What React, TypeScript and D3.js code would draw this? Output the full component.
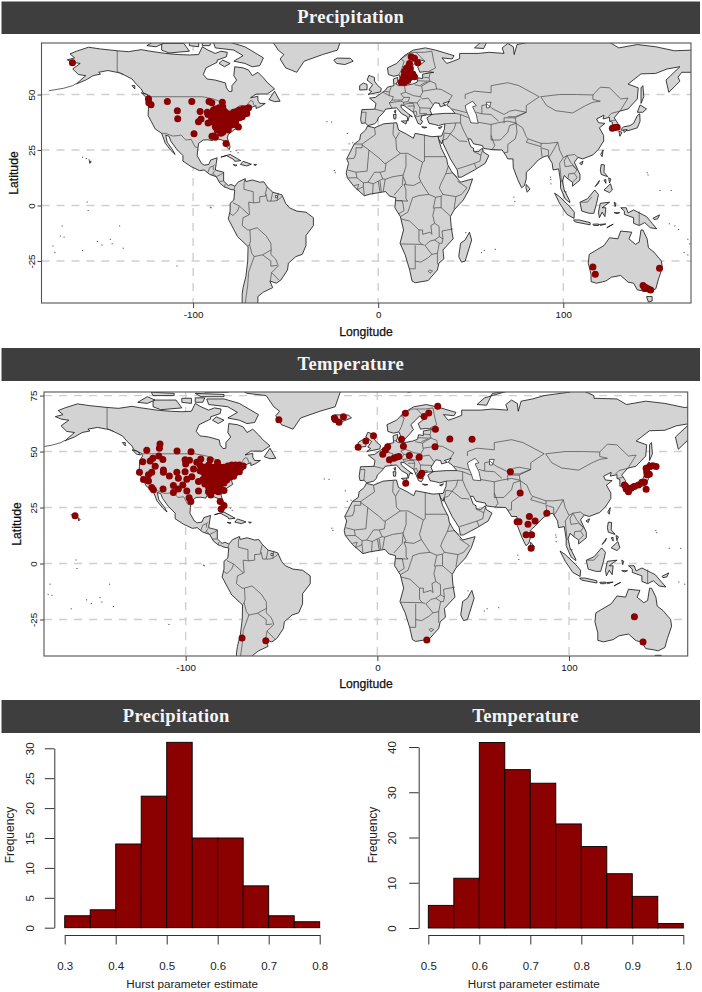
import { useRef, useEffect } from 'react';
import * as d3 from 'd3';

type P = [number, number];

// station locations, lon/lat
const precipStations: P[] = [
  [-165.2, 64.3], [-124.1, 48], [-123.9, 46.3], [-122.7, 45.4], [-113.9, 46.9], [-100.7, 46.8], [-108.5, 42.7], [-108.3, 39.1],
  [-99.5, 32.3], [-91.4, 46.8], [-89.9, 46.3], [-84.2, 46.5], [-96.2, 42.3], [-92.3, 42], [-95.7, 39], [-97.1, 37.7], [-91.9, 37.2],
  [-88.8, 31.3], [-89.8, 31.2], [-88, 30.8], [-82.2, 27.9], [-75.5, 35.4],
  [-89, 43], [-87, 42], [-85, 43], [-83, 42.5], [-88, 41], [-86, 40.5], [-84, 41], [-82, 41.5], [-80, 41], [-78, 42], [-76, 42.5],
  [-75, 43], [-73, 43.5], [-71, 43.5], [-70, 44], [-72, 42], [-74, 41], [-76, 40.5], [-78, 40], [-80, 39.5], [-82, 39.5], [-84, 39],
  [-86, 38.5], [-88, 39], [-90, 39], [-90, 41], [-92, 41], [-89, 37.5], [-87, 37], [-85, 37], [-83, 37.5], [-81, 37.5], [-79, 38],
  [-77, 38.5], [-75, 39.5], [-73, 41], [-71, 41.5], [-78, 36.5], [-80, 36], [-82, 36], [-84, 36], [-86, 35.5], [-88, 35.5], [-87, 34],
  [-85, 34], [-83, 34], [-81, 34], [-84, 33], [-82, 35], [-85, 32.5], [-73.5, 40], [-77, 37], [-75, 41.5], [-88, 43.5], [-86, 44], [-84, 44.5],
  [17.8, 67], [19.6, 66.3], [21.4, 64.3], [16.9, 64], [15.1, 61.7], [17.4, 61.7], [14.2, 60.2], [16, 59.5], [18.7, 59.2], [13.3, 57],
  [15.1, 57], [16.9, 57.5], [19.6, 58], [12.4, 55.5], [14.2, 55.5], [16, 56.3], [14, 58.5], [17, 60.5], [16.5, 62.8],
  [126.5, 34.8], [127.7, 35.1], [129.1, 35.2],
  [116, -27.7], [117.3, -31], [152, -28.2], [143.1, -36], [144.5, -36.9], [144, -37.4], [145.8, -37.5], [147.2, -38.1],
];

const tempStations: P[] = [
  [-51.4, 64.2], [-22.4, 65], [-22, 64.3], [-20, 63.1], [-17.7, 65.6], [-157.7, 21.3], [-70.6, -33.3], [-58.2, -34.5],
  [-113.4, 53.4], [-113.7, 51.5], [-120.3, 50.6], [-104.5, 50.3], [-97.2, 49.9], [-122.4, 45.5], [-118.5, 45.8], [-117.1, 47], [-114, 48],
  [-111.9, 46.4], [-115.9, 43.4], [-100.3, 46.3], [-98, 46.1], [-100, 44.5], [-94.2, 45.2], [-92.1, 46.7], [-92.5, 44], [-87.2, 46.3], [-83.4, 45.1],
  [-124.1, 40.8], [-117.7, 40.8], [-119.4, 39.6], [-122, 37.5], [-119.4, 36.9], [-111.6, 41.8], [-111.6, 40.8], [-108.5, 39.1], [-104.6, 40.8],
  [-103.8, 38.1], [-100.3, 41], [-99.4, 37.6], [-95.9, 42.2], [-96.8, 38.8], [-92.5, 41.4], [-93.3, 36.6], [-106.4, 34.8], [-103.8, 33.3],
  [-101.5, 35.1], [-106.4, 31.7], [-99.4, 32.4], [-117.7, 33.9], [-116.8, 32.9], [-111.8, 33.3], [-98.2, 29.4], [-97.3, 27.7], [-93.3, 32.4],
  [-88.1, 32.1], [-86.9, 30.6], [-82, 27.7], [-80, 25.9], [-81.5, 24.4], [-80, 32.6], [-78.6, 37.3],
  [-90, 43], [-88, 44], [-86, 43], [-84, 43], [-82, 43], [-80, 43], [-78, 43.5], [-76, 44], [-74, 44], [-72, 44], [-71, 43], [-70, 43.5],
  [-73, 42.5], [-75, 42], [-77, 42], [-79, 41.5], [-81, 41.5], [-83, 41.5], [-85, 41.5], [-87, 41.5], [-89, 41.5], [-91, 41], [-90, 39.5],
  [-88, 39.5], [-86, 39.5], [-84, 40], [-82, 40], [-80, 40], [-78, 40], [-76, 40.5], [-74, 40.5], [-72, 41], [-75, 39], [-77, 38.5], [-79, 38],
  [-81, 38], [-83, 38], [-85, 38], [-87, 38], [-89, 38], [-91, 37.5], [-90, 35.5], [-88, 36], [-86, 36], [-84, 36], [-82, 36], [-80, 36],
  [-88, 34], [-86, 34], [-84, 34], [-82, 34], [-85, 32.5], [-83, 32],
  [31.5, 70.2], [14.6, 67.1], [26.8, 67.2], [24.4, 65.7], [30.3, 60], [37.8, 55.6], [49.4, 55.5], [-2, 57.1], [-6, 54.7], [-10, 51.9], [12.6, 55.5],
  [30.1, 52.2], [13.6, 52.4], [5.4, 52.2], [4.2, 50.7], [2.8, 48.8], [6.3, 46.3], [8.6, 47], [9.8, 47.5], [11.2, 47.8], [16.7, 48.2], [21.8, 47.5],
  [23.2, 40.3], [22.5, 39.3], [14.8, 35.8], [69.4, 41], [74.5, 31.5], [88.4, 22.5], [79.3, 21], [82.3, 19], [72.9, 18.7], [73.9, 18.6], [78.6, 17.5],
  [77.6, 12.8], [80.5, 12.9], [80.2, 6.8], [134.1, -23.8], [138.6, -35], [25.8, -34.1],
  [140.2, 42.5], [142, 43.3], [143.7, 43.7], [145.4, 43.3], [140.7, 39.6], [141.9, 39.9], [140.5, 41], [128.9, 35.1], [129.8, 33.3], [131, 32.1],
  [129.5, 34.5], [132.4, 33.6], [134.1, 34.4], [136.2, 35.1], [138, 36.3], [139.3, 36.3], [140.2, 33.2], [130.5, 33.6],
];

// coastlines
const americas: P[] = [
  [-168, 65.6], [-164, 66.5], [-166.5, 68.3], [-163, 69.5], [-156.5, 71.3], [-150, 70.5], [-141, 69.7], [-135, 69.3], [-128, 70.2], [-124, 69.6],
  [-115, 68.5], [-108, 68], [-102, 67.8], [-97, 68], [-95, 71.5], [-92, 70], [-88, 68.5], [-85, 69.5], [-81.5, 69], [-82, 67], [-87, 65.5],
  [-87, 64.5], [-93, 62], [-94.5, 59], [-92.5, 57], [-88, 56.5], [-82.5, 55.2], [-82, 53], [-80.5, 51.3], [-79, 51.5], [-79, 54], [-76.5, 56.5],
  [-78, 58.5], [-77.5, 62.5], [-73, 62], [-70, 61], [-68, 58.5], [-65, 60], [-62, 57.5], [-60, 55.5], [-56, 52.5], [-60, 50.2], [-66, 50.2],
  [-69, 48.5], [-65, 49.2], [-65, 47.5], [-64, 46], [-61, 46], [-63.5, 44.6], [-66, 43.7], [-66, 45], [-69, 44], [-70.5, 43], [-70, 41.7],
  [-74, 40.6], [-75.5, 38], [-76, 37], [-75.5, 35.3], [-78, 34], [-81, 32], [-81.5, 30.5], [-80, 26.5], [-80.5, 25.2], [-82, 26.5], [-83, 29],
  [-85, 29.7], [-89, 30.3], [-89.5, 29.2], [-92, 29.6], [-94.5, 29.5], [-97, 28], [-97.5, 25], [-97.8, 22.5], [-95.5, 19], [-94, 18.2], [-91.5, 18.5],
  [-90.5, 20.5], [-87, 21.5], [-87.5, 19], [-88, 16], [-83.5, 15], [-83.5, 11], [-81, 9], [-79.5, 9.5], [-77.5, 8.7], [-75.5, 10.7], [-72, 12],
  [-71.5, 10.8], [-68, 11.5], [-64, 10.5], [-61.8, 10.7], [-60, 8.5], [-57, 6], [-52, 4.8], [-50, 1], [-48, -1], [-44, -2.5], [-39, -3],
  [-35, -5.5], [-35, -9], [-39, -13.5], [-39, -18], [-41, -22], [-44.5, -23], [-48.5, -26], [-49, -29], [-52.5, -33.5], [-55, -35], [-58.5, -34],
  [-57, -37], [-62, -39], [-65, -41], [-65, -45], [-68, -52], [-72, -53], [-75, -50], [-73.5, -45], [-73.5, -40], [-73, -37], [-71.5, -32],
  [-70.5, -25], [-70.3, -18.5], [-76, -14], [-81, -6], [-80, -2.5], [-80, 1], [-78, 2.5], [-77.5, 7], [-80, 7.3], [-81.7, 8], [-83, 8.3],
  [-85.5, 10], [-87.5, 13], [-91, 14], [-94, 16], [-96.5, 15.7], [-101, 17.5], [-105.5, 20], [-105.5, 22.5], [-109, 25.5], [-112, 29], [-113, 31.2],
  [-114.8, 31.7], [-114, 28.5], [-111, 25], [-109.7, 23], [-112, 24.8], [-115, 28], [-117, 32.5], [-120.5, 34.5], [-122.5, 37.7], [-124.3, 40.5],
  [-124, 46], [-122.5, 48], [-123, 49.2], [-127, 50.8], [-128, 52.5], [-130.5, 54.5], [-133, 57], [-137, 58.7], [-140, 59.8], [-146, 60.8],
  [-151, 60], [-150, 59.2], [-154, 58.5], [-158, 56.5], [-163, 54.8], [-158, 58.5], [-162, 59], [-165, 61.5], [-161, 64], [-165, 64.5],
];

const eurasia: P[] = [
  [-9, 37], [-9.5, 38.8], [-8.8, 43.2], [-1.8, 43.4], [-1.2, 46], [-4.7, 48.4], [-1.5, 48.7], [1.5, 50.5], [4, 52], [5, 53.3], [8.5, 54], [8.2, 57],
  [10.6, 57.7], [10.5, 56], [9.7, 54.7], [11, 54], [14, 54], [18.5, 54.7], [21, 55.5], [21.5, 57.5], [24, 57.2], [24, 59.2], [30, 60], [25, 60.3],
  [22.5, 60], [21.3, 62.5], [25.2, 65], [22, 65.8], [17.5, 62], [18.8, 59.8], [16.5, 57.5], [14.3, 55.5], [12.8, 55.5], [11.3, 58.8], [8.5, 58.2],
  [5.5, 59], [5, 62], [10, 64], [14, 67.5], [19, 70], [25.5, 71], [31, 70], [41, 67.5], [40, 66], [34.5, 66.5], [37, 64], [40.5, 65], [44, 66.2],
  [44, 68.5], [54, 68.5], [60, 69], [68, 68.5], [67, 71], [70, 73], [73, 71.5], [73.5, 68], [75, 72.5], [81, 73.5], [87, 75], [100, 76.5], [105, 78],
  [113, 75], [113, 73.8], [125, 73.5], [130, 71], [140, 72.5], [150, 71.5], [160, 69.7], [170, 70], [180, 69], [190, 66], [180, 65], [177, 62.5],
  [170, 60], [164, 60], [162, 57.8], [163, 56], [157, 51], [155.5, 56.5], [163, 62.5], [156, 61.5], [150, 59.5], [142, 59.3], [135, 54.7], [140.5, 53],
  [140, 48], [135, 43.5], [130.5, 42.5], [127.5, 39.5], [129.5, 37], [129, 35.2], [126.5, 34.5], [126.5, 37.5], [125, 38], [125, 39.7], [121.5, 39],
  [122, 40.7], [118, 39], [119, 37.3], [122.5, 37], [119.5, 35], [121.8, 31.5], [121.8, 29], [119, 25.3], [116, 22.8], [110.5, 21], [108, 21.7],
  [106, 19.5], [109, 14], [109, 11.5], [105, 8.7], [105, 10.5], [102.5, 12], [100.5, 13.5], [99.5, 11], [100.5, 7], [103.5, 2], [103.5, 1.3],
  [101, 3], [98.5, 8], [98.5, 11], [97.5, 16.5], [94.5, 16], [94, 19], [91.5, 22.5], [89, 21.8], [86.5, 20.5], [82.3, 16.7], [80, 15], [80, 12],
  [79, 9], [77.5, 8], [75.5, 11.5], [73, 17], [72.8, 21], [70, 21], [69, 22.5], [67, 25], [61.5, 25.2], [57, 25.7], [56.3, 27], [51.5, 27.8],
  [50, 30], [48.5, 30], [50, 26.5], [51.5, 25.8], [51.5, 24.5], [54, 24.2], [56.3, 25.8], [56.7, 24.2], [59.8, 22.5], [57.8, 19], [52, 16],
  [45, 12.8], [43.3, 12.7], [42.7, 16], [39, 21], [35, 28], [34.9, 29.5], [34.3, 27.8], [32.7, 29.8], [32.3, 31.2], [34.3, 31.3], [35.8, 34.5],
  [36, 36.8], [32.5, 36], [30.5, 36.5], [27.5, 37], [26.3, 39.5], [29, 41], [31, 41.2], [36, 41.5], [41.5, 41.5], [39, 44], [37, 45.2], [38.5, 47],
  [35, 46], [36.5, 45.2], [33.5, 44.5], [33, 46], [30.5, 46.3], [28, 43], [29, 41], [26, 40.8], [23.5, 40.3], [23, 38.5], [24, 38], [23, 36.5],
  [21.5, 37], [19.5, 41], [19, 42], [14, 45], [12.3, 45.3], [12.5, 44], [16, 41.5], [18.5, 40], [17, 40.5], [16, 38], [15.7, 40], [12.5, 41.5],
  [10, 44], [7.5, 43.8], [4, 43.4], [3, 42], [0, 39.5], [-0.5, 38], [-2, 36.8], [-5.5, 36], [-7, 37.2],
];

const africa: P[] = [
  [-5.8, 35.8], [-2, 35], [3, 36.8], [10, 37.3], [11, 34], [15, 32.3], [19, 30.3], [20, 32.5], [25, 31.7], [29, 31], [32.3, 31.2], [32.7, 29.8],
  [34, 26], [37, 21], [37.5, 18.5], [39.5, 15.5], [43, 12], [44.5, 10.5], [51, 12], [49, 7], [46, 2.5], [41, -2], [39, -5], [39.5, -10], [40.5, -15],
  [35, -20], [35.5, -24], [32.8, -26], [32, -29], [27, -33.8], [20, -34.8], [18.3, -34], [17, -29], [14.5, -22], [11.8, -17], [13.7, -11], [12, -5],
  [9, -1], [9.5, 3.5], [6, 4.3], [4, 6.3], [-4, 5.2], [-7.5, 4.4], [-13, 8.5], [-16.7, 12.5], [-17.3, 14.7], [-16, 19], [-17, 21], [-13, 27.7],
  [-10, 29.5], [-9.5, 32], [-6.8, 34],
];

const australia: P[] = [
  [114, -22], [113.5, -26], [115, -31], [115, -34.3], [118, -35], [123, -34], [126, -32.3], [131, -31.5], [135, -34.5], [138, -35], [140, -38],
  [144, -38.5], [146.5, -39], [150, -37.5], [151.3, -33.5], [153.5, -28], [153, -25], [149, -21], [146, -19], [145.3, -15], [143, -11], [142, -11],
  [141, -16.5], [139, -17.5], [135.5, -15], [137, -12], [131, -11.5], [129.5, -15], [125, -14.5], [122, -18], [117, -20.5],
];

const islands: P[][] = [
  [[-80, 73.5], [-72, 71.5], [-67, 69], [-62, 66.5], [-64, 63], [-68, 62.5], [-72, 64], [-78, 65], [-73, 67.5], [-78, 70], [-88, 71], [-89, 73.5]],
  [[-117, 73], [-105, 73], [-102, 69.5], [-113, 68.7], [-117, 70]],
  [[-125, 72], [-120, 74.5], [-116, 73], [-120, 71.5]],
  [[-95, 76], [-80, 75.5], [-80, 74.5], [-92, 74.5]],
  [[-95, 74], [-90, 74], [-91, 72], [-95, 72]],
  [[-102, 73.8], [-97, 73.8], [-97, 71.5], [-102, 72]],
  [[-118, 76.5], [-106, 76], [-106, 75], [-117, 75]],
  [[-85, 83], [-62, 82], [-75, 78], [-78, 76.5], [-90, 76.5], [-92, 80]],
  [[-73, 78.5], [-68, 76], [-58, 75], [-54, 70], [-51, 68], [-53, 66], [-50, 62], [-44, 60], [-40, 65], [-30, 68], [-22, 70], [-20, 75], [-18, 80], [-30, 83], [-60, 82]],
  [[-59, 47.7], [-56, 51.5], [-53, 47], [-56, 46.8]],
  [[-128, 50.8], [-125, 50], [-123.5, 48.5], [-125.5, 48.8]],
  [[-133, 54], [-131.5, 54], [-131.5, 52.5]],
  [[-84, 65.5], [-80, 64], [-83, 62.5], [-86, 64]],
  [[-24, 65.5], [-22, 66.4], [-15, 66.3], [-13.5, 65], [-18, 63.5], [-22.5, 64]],
  [[-85, 21.8], [-80, 23], [-74.2, 20.2], [-77.5, 19.9], [-78, 20.7], [-82, 22.5]],
  [[-74.4, 18.5], [-73, 19.9], [-68.5, 18.6], [-71, 17.8]],
  [[-78.3, 18.4], [-76.3, 18.2], [-77, 17.8]],
  [[-67.2, 18.5], [-65.7, 18.4], [-66.5, 18]],
  [[-156, 20.2], [-155, 19.7], [-155.8, 19]],
  [[-5.5, 50], [1.3, 51.2], [1.7, 52.7], [-0.2, 54], [-2, 56], [-2, 57.7], [-5, 58.6], [-6, 56.5], [-3, 54.5], [-5, 52], [-3.5, 51.4]],
  [[-10, 52], [-6, 52.2], [-6, 54.5], [-8, 55.2], [-10, 54]],
  [[12.5, 38], [15.5, 38.2], [15, 36.7]],
  [[8.2, 41], [9.7, 41], [9.5, 39], [8.5, 39]],
  [[8.6, 42.5], [9.5, 43], [9.3, 41.5]],
  [[23.5, 35.5], [26.3, 35.2], [24.8, 34.9]],
  [[32.5, 35], [34.5, 35.6], [33.5, 34.6]],
  [[52, 71], [57, 70.7], [60, 76], [68, 77], [56, 74]],
  [[12, 79], [22, 80.5], [26, 78], [16, 76.5]],
  [[142, 46], [143.5, 49], [143, 54], [142, 53], [142, 48]],
  [[131, 34], [135, 33.7], [140, 35], [141.5, 38], [141.3, 41.3], [140, 40.5], [138, 37], [136, 36], [132.5, 35.4]],
  [[140, 42], [141.5, 45.3], [145, 43.5], [143, 42]],
  [[130, 33.5], [131.7, 33], [130.6, 31.2]],
  [[132.5, 34], [134.5, 34.2], [133, 32.9]],
  [[120.2, 23], [121.5, 25], [121, 22]],
  [[108.8, 19], [110.7, 20], [110, 18.3]],
  [[80, 9.5], [82, 7.5], [80.5, 6], [79.8, 8]],
  [[120.5, 18.5], [122.2, 18.3], [122, 15], [124, 13], [120.5, 14], [120, 16]],
  [[122, 7], [125.5, 9.8], [126.5, 7], [125, 5.8]],
  [[122, 11.5], [123, 11.7], [123, 10]],
  [[124.5, 12.5], [125.7, 12], [125, 10.2]],
  [[117.2, 8.5], [119.5, 11.3], [119, 10]],
  [[109, 1.5], [113, 3], [117, 7], [119, 5], [118, 1], [116.5, -3.5], [114, -3.5], [110, -2.5]],
  [[95.3, 5.6], [98, 4], [103.5, -0.5], [106, -3], [105.8, -5.8], [102, -4], [98, 1]],
  [[105.5, -6.5], [108.5, -6.5], [114.5, -7.7], [114.5, -8.7], [106.5, -7.4]],
  [[119.5, -5.5], [119, -3], [120, 1], [125, 1.5], [121, -1], [123, -1], [122.5, -5], [121, -3]],
  [[131, -1], [134, -1], [135, -3.3], [138, -2], [145, -5], [148, -8], [150.5, -10.5], [147, -10], [144, -7.7], [141, -9], [138, -8], [138, -5.5], [133, -4], [133, -2.5]],
  [[148.5, -5.7], [152, -4.2], [151, -6], [149, -6.3]],
  [[123.5, -10], [127, -8.4], [125, -9.2]],
  [[116, -8.4], [119, -8.3], [119, -9], [116.5, -9]],
  [[119.5, -8.5], [123, -8.3], [120, -9]],
  [[127.5, 1.5], [128.5, 1], [128, -0.5]],
  [[127.5, -3.2], [130.5, -3.2], [129, -3.7]],
  [[145, -41], [148, -41], [148, -43], [146, -43.5]],
  [[49.3, -12], [50.5, -15.5], [47, -25], [45, -25.5], [43.5, -23], [44.5, -17], [47, -15.5]],
];

const lakes: P[][] = [
  [[47, 45], [51, 47], [53, 45], [51, 44.5], [53, 41], [54, 37], [50, 37.3], [49, 40], [47.5, 43]],
  [[58.5, 46.5], [61, 46.5], [60, 44], [58.5, 44]],
  [[-55.5, 4.5], [-54.5, 4.5], [-54.5, 3.5], [-55.5, 3.5]],
];

// country borders, one group per region
const americaBorders: P[][] = [
  [[-123, 49], [-95, 49], [-89, 48], [-84.5, 46.5], [-82.5, 45], [-82.5, 42.7], [-79, 43], [-76, 44.2], [-74.7, 45], [-71, 45], [-69, 47.3], [-67.8, 47], [-67, 45]],
  [[-141, 69.7], [-141, 60.3], [-137.5, 59]],
  [[-117, 32.5], [-114.8, 32.5], [-111, 31.3], [-108, 31.5], [-106.5, 31.8], [-104, 29.5], [-101, 29.8], [-99, 26.5], [-97.3, 26]],
  [[-92.2, 14.6], [-91, 17.2], [-89.2, 17.8], [-88.3, 18.4]], [[-89.2, 17.8], [-89, 16]],
  [[-90, 13.8], [-89.3, 14.4], [-88.3, 15.7]], [[-89.3, 14.4], [-87.7, 13.3]], [[-87.5, 13], [-85, 14], [-83.2, 15]],
  [[-85.7, 11], [-83.7, 10.9]], [[-83, 8.3], [-82.7, 9.6]], [[-77.9, 7.2], [-77.3, 8.7]],
  [[-71.7, 12.3], [-72.5, 10], [-72.5, 7.3], [-67.5, 6.2], [-67.5, 2], [-67, 1.2], [-70, 1.5], [-69.5, -4.2]],
  [[-69.8, -4.2], [-75, -0.2], [-78.5, 1.3]], [[-75, -0.2], [-76, -2.5], [-78.5, -4.5], [-80.3, -3.4]],
  [[-69.8, -4.2], [-73, -5.5], [-73.5, -9], [-70.5, -11], [-69.3, -11], [-69, -16], [-69.5, -17.5], [-70.4, -18.4]],
  [[-69.5, -17.5], [-68.3, -21.5], [-67, -23], [-70, -30], [-70.5, -36], [-71.5, -42], [-72, -48], [-72.5, -52]],
  [[-69.3, -11], [-65.4, -10], [-60.5, -13.7], [-58, -17], [-57.8, -20], [-62.5, -22.2], [-67, -23]],
  [[-62.5, -22.2], [-58, -25], [-58, -27.3], [-54.7, -27]], [[-57.8, -20], [-58, -22], [-55.5, -24], [-54.7, -25.5], [-54, -27.2], [-57.6, -30.2], [-58.3, -34]],
  [[-57.6, -30.2], [-53.5, -33.7]],
  [[-60, 8.5], [-61, 5.2]], [[-67, 1.2], [-64, 1.5], [-64, 4], [-61, 4.2], [-60.7, 5.2], [-59.8, 2], [-56.5, 2], [-54.5, 2.3], [-51.7, 4.2]],
  [[-57, 6], [-58, 2]], [[-54, 5.7], [-54.5, 2.3]],
];

const africaBorders: P[][] = [
  [[-2, 35], [-1.5, 32], [-8.7, 27.7], [-13, 27.7]], [[-8.7, 27.7], [-8.7, 26], [-12, 26], [-12, 23.5], [-13, 21.3], [-17, 21]],
  [[-8.7, 27.3], [-5, 25], [1, 21], [3.3, 19], [4.2, 19], [12, 23.5], [10, 25], [9.5, 30], [8, 32], [8.3, 36.9]], [[9.5, 30], [11.5, 33]],
  [[25, 32], [25, 20], [24, 19.5], [16, 23.5], [12, 23.5]], [[25, 22], [36.5, 22]],
  [[15, 23], [15, 17.5], [13.5, 13.7]], [[24, 19.5], [22, 13], [23, 10.7], [19, 9], [14, 9.5], [15, 10], [13.5, 13]],
  [[3.8, 11.8], [8, 13], [13.5, 13.7], [13, 9], [8.6, 4.7]], [[4.2, 19], [3.7, 15.5], [1, 15], [2.5, 12], [3.8, 11.8], [2.7, 6.3]], [[1, 11], [1.7, 6.2]],
  [[-5, 25], [-6, 15.5], [-12, 15]], [[-16.5, 16], [-12, 15], [-11.5, 12.5], [-13.7, 12.5], [-16.7, 12.4]], [[-11.5, 12.5], [-8, 10.2], [-5.5, 10.5], [-2, 15], [1, 15]],
  [[-3, 5], [-2.7, 9.8], [0, 11], [2.5, 12]], [[-5.5, 10.5], [-2.7, 9.8]], [[1, 6], [0, 11]],
  [[-11.5, 7], [-8, 8.5], [-7.5, 4.5]], [[-13, 9], [-10.5, 9.5], [-11.5, 7]], [[-8, 8.5], [-8, 10.2]],
  [[14, 9.5], [15, 7], [15, 3], [16, 2], [9.8, 2.2]], [[9.8, 2.2], [13, 2.2], [14, -2.2], [11, -3.8]], [[12, -5], [16, -3], [18, 2], [18.5, 3.5], [22, 4.5], [27.4, 5], [23, 10.7]],
  [[27.4, 5], [31, 3.7], [34, 4.2], [35, 5], [33, 7.8], [34, 10], [36.5, 14.3], [38, 18]], [[36.5, 14.3], [40, 14.7], [42.8, 12.8]],
  [[42.8, 11], [48, 8], [45, 5], [42, 4], [35, 5]], [[42, 4], [41, -1.6]], [[34, 4.2], [34, -1], [39, -4.7]],
  [[31, 3.7], [29.7, -1.4]], [[34, -1], [30.5, -1], [29.5, -4.5], [30.5, -8], [32.9, -9.4], [33, -14], [35, -15], [34.5, -11.5], [40.5, -10.5]],
  [[12.3, -6], [17, -7], [22, -11], [24, -11], [24, -13], [28, -12], [29, -13], [28.5, -9], [30.5, -8]],
  [[22, -11], [22, -16], [23.5, -17.5]], [[11.8, -17.3], [23.5, -17.5], [25, -17.8]], [[20, -18], [20, -28.5], [17, -28.5]],
  [[20, -25], [23, -25.5], [27, -23.5], [29, -22]], [[25.3, -18], [29, -22], [32, -21.5], [33, -17], [30.5, -15.5], [28, -16], [25.3, -18]], [[32, -21.5], [32, -26.5]], [[30.5, -15.5], [33, -14]],
  [[28, -29], [29.4, -29.5], [28, -30.5], [27, -29.5], [28, -29]], [[35, -15], [34.5, -17], [33, -17]],
];

const eurasiaBorders: P[][] = [
  [[-1.8, 43.4], [3, 42.4]], [[-8.8, 42], [-6.5, 42], [-7, 37.2]], [[2.5, 51], [6, 49.5], [8.2, 49], [7.5, 47.5], [6, 46.2], [7.5, 43.8]],
  [[7, 53.3], [6, 51], [6, 49.5]], [[3.4, 51.4], [6, 51.2]], [[8.7, 54.9], [9.7, 54.8]], [[14.2, 54], [14.8, 51], [12.2, 50.3], [13.8, 48.7], [13, 47.5], [9.5, 47.5], [7.5, 47.5]],
  [[6, 46.2], [10.4, 46.8], [12, 47], [13.7, 46.5], [13.7, 45.6]], [[13.8, 48.7], [17, 48.7], [16.2, 46.8], [13.7, 46.5]], [[14.8, 51], [19, 49.5], [22.7, 49], [24, 51], [23.5, 53.8], [19.7, 54.4]],
  [[23, 54.4], [26.5, 55.7]], [[21, 56.2], [26.5, 56], [28, 56.2], [27.5, 57.5], [28, 59.4]], [[24.3, 57.8], [27.5, 57.5]], [[23.5, 53.8], [28, 56], [31, 55], [31.5, 52.5], [24, 51.5]],
  [[31.5, 52.5], [34, 52.3], [40, 49.5], [38, 47]], [[22.7, 49], [24, 48], [27, 48.4], [29.5, 45.5]], [[22.8, 48], [21, 46.2], [16.5, 46.5]], [[21, 46.2], [22.5, 44], [28.5, 43.8]],
  [[13.7, 45.5], [16.5, 46], [19, 46], [19.5, 44.5], [19, 42], [20.5, 42.5], [21, 41], [19.5, 40]], [[16, 44.8], [19.5, 44.8]], [[22.5, 44], [22.5, 41.3], [26, 41.5], [26, 41]], [[20.5, 40], [26, 41]],
  [[12.2, 66], [18, 69], [20.5, 69], [25, 69], [29, 69.5], [30, 65], [31, 62], [27.5, 60.5]], [[20.5, 69], [24, 66], [25.2, 65]], [[11.3, 59], [12.5, 61], [14, 65], [12.2, 66]],
  [[36, 36.8], [42, 37.2], [44.5, 37.2], [44.5, 39.5]], [[41.5, 41.5], [44.5, 41], [44.5, 39.5]], [[40, 43.5], [48, 41.8]], [[44.5, 41], [48.9, 39.5]],
  [[44.5, 37.2], [46, 34], [48.5, 30]], [[42, 37.2], [41, 34.5], [39, 32.3], [35.7, 32.7], [35, 29.5]], [[39, 32.3], [37, 30], [35, 29.5]], [[39, 32.3], [44, 29], [46.5, 29], [48, 28.7]],
  [[42.8, 16.5], [46, 17.3], [52, 19], [53, 16.6]], [[52, 19], [55, 20], [55.5, 22.7], [56.3, 24.8]], [[51.5, 24.3], [55.5, 22.7]],
  [[54, 37.5], [61, 36.5], [61, 31.5], [63, 27], [61.5, 25.2]], [[61, 31.5], [61, 29.5], [66, 29.5], [70, 33], [71, 36], [74.5, 37]], [[61, 36.5], [65, 37.3], [70, 38], [74.5, 37.2]],
  [[53, 42], [56, 41.3], [61, 41], [65, 38]], [[56, 45], [56, 41.3]], [[56, 45], [59, 45.5], [62, 43.5], [68, 41], [71, 42.5], [74, 43], [80, 42], [74, 40], [70, 40]], [[68, 37], [68, 39.5], [74, 39.5]],
  [[47, 48], [47, 50], [52, 51.5], [61, 50.8], [61, 54], [70, 55.3], [76, 54], [87, 49], [80, 45], [80, 42]],
  [[87.8, 49], [98, 50], [107, 50], [116, 49.8], [116, 47.8], [120, 47]], [[87.8, 49], [91, 45], [96, 42.7], [105, 41.7], [112, 45], [116, 46.5], [120, 47]],
  [[116, 49.8], [120, 53.3], [125, 53], [131, 48], [135, 48.4], [131, 43], [130.5, 42.5], [126, 41.5], [124.3, 40]], [[125, 38], [128.3, 38.5]],
  [[80, 42], [74, 39.5], [74.5, 37], [78, 35], [80, 31], [81, 30], [88, 28], [92, 28], [97, 28.5], [98, 25], [100, 21.5], [102, 22.5], [106, 23], [108, 21.6]],
  [[74.5, 37], [75, 33], [74, 30], [70, 27.5], [70, 24], [68, 23.8]], [[81, 30], [80, 28.5], [88, 26.5], [88, 28]], [[88, 26], [88.5, 22]], [[88, 26], [92, 25], [92, 23], [92.5, 21]],
  [[92.5, 22], [94, 24], [97, 28.5]], [[100, 21.5], [98, 19], [98.5, 15], [99, 10.5]], [[102, 22.5], [100.5, 20], [101, 17.5], [105, 18], [107.5, 16], [106, 14.5]], [[102, 22.5], [104, 19.5], [107.5, 16]],
  [[102.5, 12], [103, 14.3], [106, 14.5], [107.5, 12.5], [105, 10.5]], [[100.2, 6.5], [102, 6]], [[109.5, 1.5], [113, 1.5], [115.5, 4]], [[141, -2.7], [141, -9]],
];

const aleutians: P[] = [[-178, 51.7], [-170, 52.8], [-165, 54], [-163, 55]];
const smallIslands: P[] = [
  [-160, 22], [-158, 21.4], [-156.5, 20.8], [-149.5, -17.6], [-140, -9], [-145, -15], [-160, -20], [-170, -14], [-172, -13.5], [-176, -18], [-157, -2],
  [-157.5, 1.8], [-171, -9], [-175, -21], [-144, -17], [-138, -19], [-152, -16], [-91, -0.5], [-90.5, -0.8], [-109, -27], [-16, 28], [-14, 28.5], [-24, 16],
  [-23.5, 15], [-28, 38], [-25.5, 37.8], [-17, 32.7], [57, -20], [55.5, -21], [73, 4], [73.5, 2], [93, 12], [93, 10], [92.8, 13], [145, 15], [145.5, 14], [152, 7],
  [158, 7], [171, 7], [173, -1], [160, -9], [157, -8], [162, -10.5], [167, -15], [168, -17], [165, -21], [167, -22], [178, -18], [47, -12], [63, -19.5], [-80, 24.5], [-77, 25], [-76, 24],
];

const histBreaksP = [0.3, 0.35, 0.4, 0.45, 0.5, 0.55, 0.6, 0.65, 0.7, 0.75, 0.8];
const histCountsP = [2, 3, 14, 22, 31, 15, 15, 7, 2, 1];
const histBreaksT = [0.5, 0.55, 0.6, 0.65, 0.7, 0.75, 0.8, 0.85, 0.9, 0.95, 1.0];
const histCountsT = [5, 11, 41, 35, 32, 23, 18, 12, 7, 1];

const lonTicks = [-100, 0, 100];
const latTicksP = [-25, 0, 25, 50];
const latTicksT = [-25, 0, 25, 50, 75];

const RED = '#8b0000';
const SANS = '"Liberation Sans", Arial, sans-serif';

function header(svg: any, x: number, y: number, w: number, h: number, label: string) {
  svg.append('rect').attr('x', x).attr('y', y).attr('width', w).attr('height', h).attr('fill', '#3e3e3e');
  svg.append('text').attr('x', x + w / 2).attr('y', y + h / 2 + 5.5)
    .attr('text-anchor', 'middle').attr('fill', '#f4f4f4')
    .style('font-family', '"Liberation Serif", serif').style('font-weight', 700).style('font-size', '18.5px').style('letter-spacing', '0.35px')
    .text(label);
}

function drawMap(svg: any, id: string, o: any) {
  const { left, right, top, bottom, lonDomain, latDomain, latTicks, stations } = o;
  const x = d3.scaleLinear().domain(lonDomain).range([left, right]);
  const y = d3.scaleLinear().domain(latDomain).range([bottom, top]);
  const line = d3.line<P>().x(d => x(d[0])).y(d => y(d[1]));
  const closed = (pts: P[]) => line(pts) + 'Z';

  svg.append('clipPath').attr('id', id).append('rect').attr('x', left).attr('y', top).attr('width', right - left).attr('height', bottom - top);
  const g = svg.append('g').attr('clip-path', `url(#${id})`);

  // grid sits under the land
  g.selectAll('line.lat').data(latTicks).join('line').attr('class', 'lat')
    .attr('x1', left).attr('x2', right).attr('y1', (d: number) => y(d)).attr('y2', (d: number) => y(d));
  g.selectAll('line.lon').data(lonTicks).join('line').attr('class', 'lon')
    .attr('y1', top).attr('y2', bottom).attr('x1', (d: number) => x(d)).attr('x2', (d: number) => x(d));
  g.selectAll('line').attr('stroke', '#cfcfcf').attr('stroke-width', 1.4).attr('stroke-dasharray', '8,7');

  g.selectAll('path.land').data([americas, eurasia, africa, australia, ...islands]).join('path').attr('class', 'land')
    .attr('d', closed).attr('fill', '#d3d3d3').attr('stroke', '#111').attr('stroke-width', 0.8).attr('stroke-linejoin', 'round');
  g.selectAll('path.lake').data(lakes).join('path').attr('class', 'lake')
    .attr('d', closed).attr('fill', '#fff').attr('stroke', '#222').attr('stroke-width', 0.7);
  g.selectAll('path.border').data([...americaBorders, ...africaBorders, ...eurasiaBorders]).join('path').attr('class', 'border')
    .attr('d', line).attr('fill', 'none').attr('stroke', '#3c3c3c').attr('stroke-width', 0.65);
  g.append('path').attr('d', line(aleutians)).attr('fill', 'none').attr('stroke', '#222').attr('stroke-width', 0.7);
  g.selectAll('rect.isle').data(smallIslands).join('rect').attr('class', 'isle')
    .attr('x', (d: P) => x(d[0])).attr('y', (d: P) => y(d[1])).attr('width', 1.1).attr('height', 1).attr('fill', '#444');

  g.selectAll('circle').data(stations).join('circle')
    .attr('cx', (d: P) => x(d[0])).attr('cy', (d: P) => y(d[1])).attr('r', 3.5).attr('fill', RED);

  svg.append('rect').attr('x', left).attr('y', top).attr('width', right - left).attr('height', bottom - top)
    .attr('fill', 'none').attr('stroke', '#555').attr('stroke-width', 1.1);

  const xAxis = svg.append('g').attr('transform', `translate(0,${bottom})`)
    .call(d3.axisBottom(x).tickValues(lonTicks).tickSize(5).tickFormat(String as any));
  xAxis.select('.domain').remove();
  xAxis.selectAll('line').attr('stroke', '#444');
  xAxis.selectAll('text').attr('y', 8).attr('dy', '0.71em').style('font-family', SANS).style('font-size', '9.8px').attr('fill', '#111');

  const yAxis = svg.append('g').attr('transform', `translate(${left},0)`)
    .call(d3.axisLeft(y).tickValues(latTicks).tickSize(4).tickFormat(String as any));
  yAxis.select('.domain').remove();
  yAxis.selectAll('line').attr('stroke', '#444');
  yAxis.selectAll('text').attr('x', 0).attr('dy', 0).attr('text-anchor', 'middle')
    .attr('transform', `translate(${-7},0) rotate(-90)`)
    .style('font-family', SANS).style('font-size', '9.8px').attr('fill', '#111');

  svg.append('text').attr('x', o.xLabelX).attr('y', o.xLabelY).attr('text-anchor', 'middle')
    .style('font-family', SANS).style('font-size', '12.2px').attr('fill', '#111').attr('stroke', '#111').attr('stroke-width', 0.25).text('Longitude');
  svg.append('text').attr('transform', `translate(${o.yLabelX},${o.yLabelY}) rotate(-90)`).attr('text-anchor', 'middle')
    .style('font-family', SANS).style('font-size', '12.2px').attr('fill', '#111').attr('stroke', '#111').attr('stroke-width', 0.25).text('Latitude');
}

function drawHist(svg: any, o: any) {
  const { breaks, counts, x0, x1, y0, yTop, yMax, yStep, axisX, axisY, tickX, labelX } = o;
  const x = d3.scaleLinear().domain([breaks[0], breaks[breaks.length - 1]]).range([x0, x1]);
  const y = d3.scaleLinear().domain([0, yMax]).range([y0, yTop]);
  const yTicks = d3.range(0, yMax + 1, yStep);

  svg.append('g').selectAll('rect').data(counts).join('rect')
    .attr('x', (_: number, i: number) => x(breaks[i]))
    .attr('width', (_: number, i: number) => x(breaks[i + 1]) - x(breaks[i]))
    .attr('y', (d: number) => y(d))
    .attr('height', (d: number) => y0 - y(d))
    .attr('fill', RED).attr('stroke', '#000').attr('stroke-width', 0.9);

  const yAxis = svg.append('g').attr('transform', `translate(${axisX},0)`)
    .call(d3.axisLeft(y).tickValues(yTicks).tickSize(9.5).tickSizeOuter(0).tickFormat(String as any));
  yAxis.selectAll('line,path').attr('stroke', '#333');
  yAxis.selectAll('text').attr('x', 0).attr('dy', 0).attr('text-anchor', 'middle')
    .attr('transform', `translate(${tickX - axisX},0) rotate(-90)`)
    .style('font-family', SANS).style('font-size', '11.5px').attr('fill', '#222');

  const xAxis = svg.append('g').attr('transform', `translate(0,${axisY})`)
    .call(d3.axisBottom(x).tickValues(d3.range(0, 6).map(i => breaks[i * 2])).tickSize(9.5).tickSizeOuter(0).tickFormat(d3.format('.1f') as any));
  xAxis.selectAll('line,path').attr('stroke', '#333');
  xAxis.selectAll('text').attr('y', 30).attr('dy', '0.4em')
    .style('font-family', SANS).style('font-size', '11.5px').attr('fill', '#222');

  svg.append('text').attr('x', (x0 + x1) / 2 + o.labelShift).attr('y', 988).attr('text-anchor', 'middle')
    .style('font-family', SANS).style('font-size', '11.7px').attr('fill', '#222').text('Hurst parameter estimate');
  svg.append('text').attr('transform', `translate(${labelX},${o.labelY}) rotate(-90)`).attr('text-anchor', 'middle')
    .style('font-family', SANS).style('font-size', '12px').attr('fill', '#222').text('Frequency');
}

export default function App() {
  const svgRef = useRef<SVGSVGElement>(null);

  useEffect(() => {
    const svg = d3.select(svgRef.current);
    svg.selectAll('*').remove();

    header(svg, 1.5, 1.5, 698.5, 32.5, 'Precipitation');
    header(svg, 1.5, 348, 698.5, 33, 'Temperature');
    header(svg, 1.5, 700, 349.5, 33, 'Precipitation');
    header(svg, 351, 700, 349, 33, 'Temperature');

    drawMap(svg, 'clip-precip', {
      left: 41.5, right: 691, top: 43, bottom: 303,
      lonDomain: [-181.9, 169], latDomain: [-43.9, 73.2],
      latTicks: latTicksP, stations: precipStations,
      xLabelX: 366, xLabelY: 336, yLabelX: 18, yLabelY: 173,
    });
    drawMap(svg, 'clip-temp', {
      left: 44, right: 687.7, top: 392, bottom: 656,
      lonDomain: [-173.9, 161.9], latDomain: [-41.3, 76.6],
      latTicks: latTicksT, stations: tempStations,
      xLabelX: 366, xLabelY: 688, yLabelX: 21, yLabelY: 524,
    });

    drawHist(svg, {
      breaks: histBreaksP, counts: histCountsP, x0: 64.7, x1: 319.7, y0: 927.7, yTop: 748.3, yMax: 30, yStep: 5,
      axisX: 54.3, axisY: 935, tickX: 34.3, labelX: 14, labelY: 835, labelShift: 0,
    });
    drawHist(svg, {
      breaks: histBreaksT, counts: histCountsT, x0: 428.3, x1: 683.3, y0: 928, yTop: 747, yMax: 40, yStep: 10,
      axisX: 418.7, axisY: 935, tickX: 396, labelX: 377, labelY: 835, labelShift: -22,
    });
  }, []);

  return (
    <svg
      ref={svgRef}
      width={702}
      height={992}
      style={{ position: 'absolute', left: 0, top: 0, background: '#fff' }}
    />
  );
}
